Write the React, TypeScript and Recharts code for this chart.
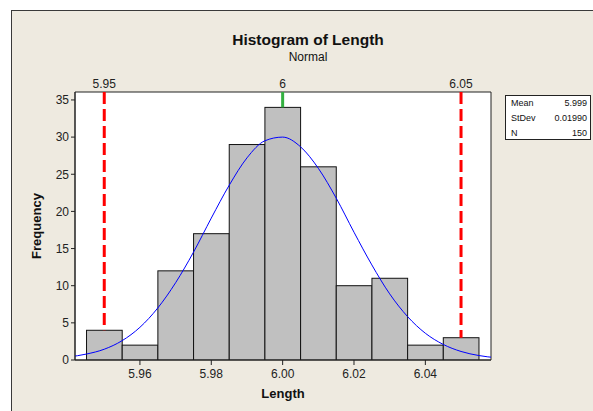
import { ComposedChart, Bar, Line, XAxis, YAxis, CartesianGrid, ReferenceLine, ReferenceArea, Label } from 'recharts';

const binCenters = [5.95, 5.96, 5.97, 5.98, 5.99, 6.0, 6.01, 6.02, 6.03, 6.04, 6.05];
const binCounts = [4, 2, 12, 17, 29, 34, 26, 10, 11, 2, 3];

// fitted normal curve, every 0.005
const curveX = [
  5.94, 5.945, 5.95, 5.955, 5.96, 5.965, 5.97, 5.975, 5.98, 5.985, 5.99, 5.995, 6.0,
  6.005, 6.01, 6.015, 6.02, 6.025, 6.03, 6.035, 6.04, 6.045, 6.05, 6.055, 6.06,
];
const curveY = [
  0.4, 0.8, 1.45, 2.6, 4.4, 7.0, 10.4, 14.5, 19.1, 23.5, 27.2, 29.5, 30.0,
  28.7, 25.8, 21.8, 17.2, 12.8, 8.9, 5.85, 3.6, 2.1, 1.15, 0.6, 0.3,
];

const bottomTicks = [5.96, 5.98, 6.0, 6.02, 6.04];
const topTicks = [5.95, 6, 6.05];
const yTicks = [0, 5, 10, 15, 20, 25, 30, 35];

const specLower = 5.95;
const specTarget = 6;
const specUpper = 6.05;

const statLabels = ['Mean', 'StDev', 'N'];
const statValues = ['5.999', '0.01990', '150'];

const X_MIN = 5.9418;
const X_MAX = 6.0584;
const Y_MAX = 36.07;
const BIN_WIDTH = 0.01;

const CHART_W = 593;
const CHART_H = 411;
const MARGIN = { top: 72, right: 102, bottom: 0, left: 0 };
const Y_AXIS_W = 75;
const X_AXIS_H = 51;
const PLOT_W = CHART_W - MARGIN.left - MARGIN.right - Y_AXIS_W;
const BIN_PX = (PLOT_W * BIN_WIDTH) / (X_MAX - X_MIN);

const FONT = '"Liberation Sans", Arial, sans-serif';

const rows = curveX.map((x, i) => {
  const k = binCenters.findIndex((c) => Math.abs(c - x) < 1e-6);
  return { x, curve: curveY[i], count: k >= 0 ? binCounts[k] : undefined };
});

function HistBar(props: any) {
  const { x, y, width, height } = props;
  if (height == null || height <= 0) return null;
  const cx = x + width / 2;
  return (
    <rect x={cx - BIN_PX / 2} y={y} width={BIN_PX} height={height} fill="#c0c0c0" stroke="#111" strokeWidth={1} />
  );
}

export default function App() {
  return (
    <div style={{ position: 'absolute', left: 0, top: 0, width: CHART_W, height: CHART_H, background: '#fff', overflow: 'hidden', fontFamily: FONT }}>
      <div
        style={{
          position: 'absolute',
          left: 11,
          top: 10,
          width: 620,
          height: 440,
          background: '#eeeae0',
          borderLeft: '1px solid #3a3a3a',
          borderTop: '1px solid #3a3a3a',
        }}
      />
      <div style={{ position: 'absolute', left: 158, width: 300, top: 31, textAlign: 'center', fontWeight: 'bold', fontSize: 15.5, color: '#111' }}>
        Histogram of Length
      </div>
      <div style={{ position: 'absolute', left: 158, width: 300, top: 50, textAlign: 'center', fontSize: 12, color: '#111' }}>
        Normal
      </div>

      <div style={{ position: 'absolute', left: 0, top: 0 }}>
        <ComposedChart width={CHART_W} height={CHART_H} data={rows} margin={MARGIN}>
          <CartesianGrid horizontal={false} vertical={false} fill="#ffffff" />
          <XAxis
            dataKey="x"
            type="number"
            domain={[X_MIN, X_MAX]}
            allowDataOverflow
            ticks={bottomTicks}
            tickFormatter={(v: number) => v.toFixed(2)}
            tick={{ fill: '#222', fontSize: 12, fontFamily: FONT }}
            tickSize={5}
            tickMargin={4}
            height={X_AXIS_H}
            stroke="#222"
          >
            <Label value="Length" position="insideBottom" offset={13} style={{ fontWeight: 'bold', fontSize: 13, fill: '#111', fontFamily: FONT }} />
          </XAxis>
          <XAxis
            xAxisId="top"
            orientation="top"
            dataKey="x"
            type="number"
            domain={[X_MIN, X_MAX]}
            allowDataOverflow
            ticks={topTicks}
            tickFormatter={(v: number) => String(v)}
            tick={{ fill: '#222', fontSize: 12, fontFamily: FONT }}
            tickLine={false}
            axisLine={false}
            tickSize={2}
            tickMargin={2}
            height={20}
          />
          <YAxis
            type="number"
            domain={[0, Y_MAX]}
            allowDataOverflow
            ticks={yTicks}
            tick={{ fill: '#222', fontSize: 12, fontFamily: FONT }}
            tickSize={4}
            tickMargin={2}
            width={Y_AXIS_W}
            stroke="#222"
          >
            <Label value="Frequency" angle={-90} position="insideLeft" offset={36} style={{ fontWeight: 'bold', fontSize: 13, fill: '#111', fontFamily: FONT, textAnchor: 'middle' }} />
          </YAxis>

          <ReferenceLine
            segment={[{ x: specLower, y: Y_MAX }, { x: specLower, y: binCounts[0] }]}
            stroke="#ff0000"
            strokeWidth={3}
            strokeDasharray="12 5"
          />
          <ReferenceLine
            segment={[{ x: specUpper, y: Y_MAX }, { x: specUpper, y: binCounts[binCounts.length - 1] }]}
            stroke="#ff0000"
            strokeWidth={3}
            strokeDasharray="12 5"
          />
          <ReferenceLine
            segment={[{ x: specTarget, y: Y_MAX }, { x: specTarget, y: binCounts[5] }]}
            stroke="#33b040"
            strokeWidth={3}
          />

          <Bar dataKey="count" barSize={BIN_PX} shape={HistBar} isAnimationActive={false} />
          <Line
            dataKey="curve"
            type="monotone"
            stroke="#0000ff"
            strokeWidth={1}
            dot={false}
            activeDot={false}
            isAnimationActive={false}
          />
          <ReferenceArea x1={X_MIN} x2={X_MAX} y1={0} y2={Y_MAX} fill="none" stroke="#222" strokeWidth={1} />
        </ComposedChart>
      </div>

      <div
        style={{
          position: 'absolute',
          left: 505,
          top: 95,
          width: 86,
          height: 45,
          background: '#fff',
          border: '1px solid #222',
          fontSize: 9,
          color: '#111',
          padding: '0 3px 0 5px',
          boxSizing: 'border-box',
        }}
      >
        {statLabels.map((lab, i) => (
          <div key={lab} style={{ display: 'flex', justifyContent: 'space-between', height: 15, lineHeight: '14px' }}>
            <span>{lab}</span>
            <span>{statValues[i]}</span>
          </div>
        ))}
      </div>
    </div>
  );
}
